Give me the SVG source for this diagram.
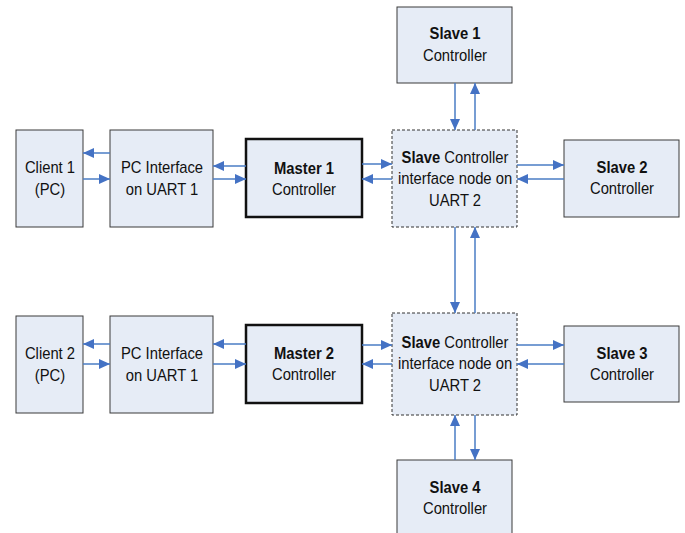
<svg xmlns="http://www.w3.org/2000/svg" width="685" height="533" viewBox="0 0 685 533">
<style>
.box{fill:#E6ECF6;stroke:#3a3a3a;stroke-width:1}
.master{fill:#E6ECF6;stroke:#111;stroke-width:2.5}
.dash{fill:#E6ECF6;stroke:#333;stroke-width:1;stroke-dasharray:3,2}
text{font-family:"Liberation Sans",Arial,sans-serif;font-size:17px;fill:#111;text-anchor:middle}
.b{font-weight:bold}
.c line{stroke:#4A7CC4;stroke-width:1.5}
</style>
<defs>
<marker id="ah" markerUnits="userSpaceOnUse" markerWidth="12" markerHeight="10" refX="11" refY="5" orient="auto">
<path d="M0,0 L11,5 L0,10 Z" fill="#4472C4"/>
</marker>
</defs>
<g id="client1"><rect class="box" x="16" y="130" width="67" height="97"/><g transform="translate(50,0) scale(0.87,1)"><text x="0" y="173">Client 1</text><text x="0" y="195">(PC)</text></g></g>
<g id="pc1"><rect class="box" x="110" y="130" width="103" height="97"/><g transform="translate(162,0) scale(0.87,1)"><text x="0" y="173">PC Interface</text><text x="0" y="195">on UART 1</text></g></g>
<g id="master1"><rect class="master" x="246" y="139" width="116" height="78"/><g transform="translate(304,0) scale(0.87,1)"><text x="0" y="174" class="b">Master 1</text><text x="0" y="195">Controller</text></g></g>
<g id="slave1"><rect class="box" x="397" y="7" width="115" height="76"/><g transform="translate(455,0) scale(0.87,1)"><text x="0" y="39" class="b">Slave 1</text><text x="0" y="61">Controller</text></g></g>
<g id="iface1"><rect class="dash" x="392" y="130" width="125" height="97"/><g transform="translate(455,0) scale(0.87,1)"><text x="0" y="163"><tspan class="b">Slave</tspan> Controller</text><text x="0" y="184">interface node on</text><text x="0" y="206">UART 2</text></g></g>
<g id="slave2"><rect class="box" x="564" y="140" width="115" height="77"/><g transform="translate(622,0) scale(0.87,1)"><text x="0" y="173" class="b">Slave 2</text><text x="0" y="194">Controller</text></g></g>
<g id="client2"><rect class="box" x="16" y="316" width="67" height="97"/><g transform="translate(50,0) scale(0.87,1)"><text x="0" y="359">Client 2</text><text x="0" y="381">(PC)</text></g></g>
<g id="pc2"><rect class="box" x="110" y="316" width="103" height="97"/><g transform="translate(162,0) scale(0.87,1)"><text x="0" y="359">PC Interface</text><text x="0" y="381">on UART 1</text></g></g>
<g id="master2"><rect class="master" x="246" y="325" width="116" height="78"/><g transform="translate(304,0) scale(0.87,1)"><text x="0" y="359" class="b">Master 2</text><text x="0" y="380">Controller</text></g></g>
<g id="iface2"><rect class="dash" x="392" y="313" width="125" height="102"/><g transform="translate(455,0) scale(0.87,1)"><text x="0" y="348"><tspan class="b">Slave</tspan> Controller</text><text x="0" y="369">interface node on</text><text x="0" y="391">UART 2</text></g></g>
<g id="slave3"><rect class="box" x="564" y="326" width="115" height="76"/><g transform="translate(622,0) scale(0.87,1)"><text x="0" y="359" class="b">Slave 3</text><text x="0" y="380">Controller</text></g></g>
<g id="slave4"><rect class="box" x="397" y="460" width="115" height="80"/><g transform="translate(455,0) scale(0.87,1)"><text x="0" y="493" class="b">Slave 4</text><text x="0" y="514">Controller</text></g></g>
<g id="connectors" class="c">
<line x1="110" y1="153" x2="83" y2="153" marker-end="url(#ah)"/>
<line x1="83" y1="179" x2="110" y2="179" marker-end="url(#ah)"/>
<line x1="246" y1="166" x2="213" y2="166" marker-end="url(#ah)"/>
<line x1="213" y1="179" x2="246" y2="179" marker-end="url(#ah)"/>
<line x1="362" y1="164" x2="392" y2="164" marker-end="url(#ah)"/>
<line x1="392" y1="179" x2="362" y2="179" marker-end="url(#ah)"/>
<line x1="517" y1="165" x2="564" y2="165" marker-end="url(#ah)"/>
<line x1="564" y1="179" x2="517" y2="179" marker-end="url(#ah)"/>
<line x1="455" y1="83" x2="455" y2="130" marker-end="url(#ah)"/>
<line x1="475" y1="130" x2="475" y2="83" marker-end="url(#ah)"/>
<line x1="455" y1="227" x2="455" y2="313" marker-end="url(#ah)"/>
<line x1="475" y1="313" x2="475" y2="227" marker-end="url(#ah)"/>
<line x1="110" y1="344" x2="83" y2="344" marker-end="url(#ah)"/>
<line x1="83" y1="364" x2="110" y2="364" marker-end="url(#ah)"/>
<line x1="246" y1="344" x2="213" y2="344" marker-end="url(#ah)"/>
<line x1="213" y1="364" x2="246" y2="364" marker-end="url(#ah)"/>
<line x1="362" y1="345" x2="392" y2="345" marker-end="url(#ah)"/>
<line x1="392" y1="364" x2="362" y2="364" marker-end="url(#ah)"/>
<line x1="517" y1="345" x2="564" y2="345" marker-end="url(#ah)"/>
<line x1="564" y1="364" x2="517" y2="364" marker-end="url(#ah)"/>
<line x1="455" y1="460" x2="455" y2="415" marker-end="url(#ah)"/>
<line x1="475" y1="415" x2="475" y2="460" marker-end="url(#ah)"/>
</g>
</svg>
